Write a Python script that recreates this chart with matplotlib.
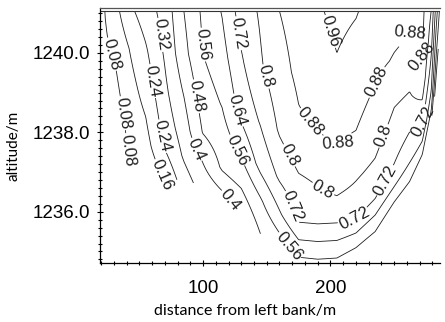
import numpy as np
import matplotlib
matplotlib.use("Agg")
import matplotlib.pyplot as plt
from matplotlib.ticker import MultipleLocator, FormatStrFormatter

# Survey verticals: distance from left bank (m) and bed elevation (m)
station_x = [18, 25, 32, 42, 55, 70, 85, 100, 115, 130, 145, 160, 175,
             190, 205, 220, 235, 250, 262, 272, 279, 283, 286]
bed_z = [1241.0, 1240.0, 1238.9, 1237.3, 1237.1, 1236.9, 1236.75, 1236.7,
         1236.4, 1236.0, 1235.45, 1235.05, 1234.8, 1234.75, 1234.78, 1235.05,
         1235.5, 1236.2, 1236.7, 1237.4, 1238.3, 1239.2, 1241.0]
water_level = 1241.05

# Relative depth of the measuring points (0 = surface, 1 = bed)
rel_depth = [0.0, 0.25, 0.5, 0.7, 0.85, 1.0]

# Point velocities (m/s) on each vertical, surface to bed
velocity = [
    [0.03, 0.03, 0.03, 0.03, 0.03, 0.03],
    [0.10, 0.095, 0.085, 0.075, 0.07, 0.06],
    [0.14, 0.12, 0.10, 0.08, 0.07, 0.06],
    [0.22, 0.16, 0.13, 0.11, 0.09, 0.08],
    [0.28, 0.23, 0.19, 0.155, 0.13, 0.10],
    [0.35, 0.33, 0.30, 0.27, 0.235, 0.17],
    [0.48, 0.455, 0.40, 0.36, 0.33, 0.28],
    [0.575, 0.56, 0.52, 0.485, 0.41, 0.36],
    [0.645, 0.61, 0.565, 0.52, 0.49, 0.38],
    [0.755, 0.71, 0.665, 0.575, 0.50, 0.41],
    [0.81, 0.79, 0.725, 0.66, 0.55, 0.48],
    [0.88, 0.855, 0.81, 0.73, 0.63, 0.50],
    [0.91, 0.895, 0.865, 0.78, 0.72, 0.55],
    [0.95, 0.92, 0.875, 0.80, 0.72, 0.55],
    [0.98, 0.95, 0.89, 0.83, 0.72, 0.55],
    [0.965, 0.925, 0.88, 0.805, 0.745, 0.55],
    [0.93, 0.895, 0.85, 0.79, 0.72, 0.56],
    [0.91, 0.875, 0.80, 0.75, 0.70, 0.55],
    [0.895, 0.865, 0.79, 0.72, 0.66, 0.55],
    [0.90, 0.89, 0.85, 0.76, 0.68, 0.55],
    [0.80, 0.76, 0.70, 0.65, 0.60, 0.50],
    [0.60, 0.55, 0.50, 0.45, 0.40, 0.35],
    [0.45, 0.45, 0.45, 0.45, 0.45, 0.45],
]

# Isovel levels
levels = [0.08, 0.16, 0.24, 0.32, 0.40, 0.48, 0.56, 0.64, 0.72, 0.80, 0.88, 0.96]

# Where the isovel labels sit (distance, altitude)
label_spots = [
    (32.5, 1240.0), (41, 1238.5), (40.5, 1237.55),
    (66, 1240.45), (62.5, 1239.3), (68, 1237.9), (72.5, 1236.9),
    (97.5, 1240.2), (93.5, 1238.9), (93.5, 1237.55), (125, 1236.4),
    (126.5, 1238.55), (126.5, 1237.55), (129, 1240.5),
    (148.5, 1239.4), (166.5, 1237.4), (184, 1238.25), (205, 1237.75),
    (206, 1240.6), (252, 1240.85), (237, 1239.25), (272.5, 1239.9),
    (268.5, 1238.3), (242.5, 1237.9), (193, 1236.5), (168, 1236.1),
    (219, 1235.8), (242.5, 1236.8), (170, 1235.2),
]

plt.rcParams['font.family'] = ['Liberation Sans', 'DejaVu Sans']

# Interpolate the measured profiles onto a section-following grid
sx = np.asarray(station_x, float)
vel = np.asarray(velocity, float)
rd_f = np.linspace(0.0, 1.0, 161)
x_f = np.linspace(sx[0], sx[-1], 700)
prof = np.array([np.interp(rd_f, rel_depth, row) for row in vel])      # (n_vert, n_rd)
U = np.array([np.interp(x_f, sx, prof[:, j]) for j in range(len(rd_f))])  # (n_rd, n_x)
bed_f = np.interp(x_f, sx, bed_z)
X = np.broadcast_to(x_f, U.shape)
Y = water_level - rd_f[:, None] * (water_level - bed_f[None, :])

fig = plt.figure(figsize=(4.45, 3.22), dpi=100)
ax = fig.add_axes([100 / 445, 59 / 322, 340 / 445, 255 / 322])

ax.set_xlim(19.2, 285.9)
ax.set_ylim(1234.71, 1241.13)

cs = ax.contour(X, Y, U, levels=levels, colors='#1e1e1e', linewidths=0.6)


def fmt(v):
    s = f"{v:.2f}"
    return s.rstrip('0') if s.endswith('0') else s


ax.clabel(cs, fmt=fmt, fontsize=12, inline=True, inline_spacing=1,
          manual=label_spots)

# Water surface
ax.plot([station_x[0], station_x[-1]], [water_level, water_level],
        color='#333333', lw=0.8)

ax.xaxis.set_major_locator(MultipleLocator(100))
ax.xaxis.set_minor_locator(MultipleLocator(10))
ax.yaxis.set_major_locator(MultipleLocator(2))
ax.yaxis.set_minor_locator(MultipleLocator(0.2))
ax.yaxis.set_major_formatter(FormatStrFormatter('%.1f'))
ax.tick_params(which='both', direction='inout', length=4, width=0.8,
               labelsize=13.5)
ax.tick_params(axis='x', pad=10)
ax.tick_params(axis='y', pad=5)
ax.tick_params(which='minor', length=3)

for side in ('left', 'bottom', 'top'):
    ax.spines[side].set_linewidth(0.9)
ax.spines['top'].set_color('#555555')
ax.spines['right'].set_visible(False)

ax.set_xlabel('distance from left bank/m', family=['Lato', 'DejaVu Sans'],
              fontsize=11.5)
ax.xaxis.set_label_coords(0.426, -0.16)
ax.set_ylabel('altitude/m', family=['Lato', 'DejaVu Sans'], fontsize=11)
ax.yaxis.set_label_coords(-0.235, 0.46)

fig.savefig('out.png', dpi=100)
